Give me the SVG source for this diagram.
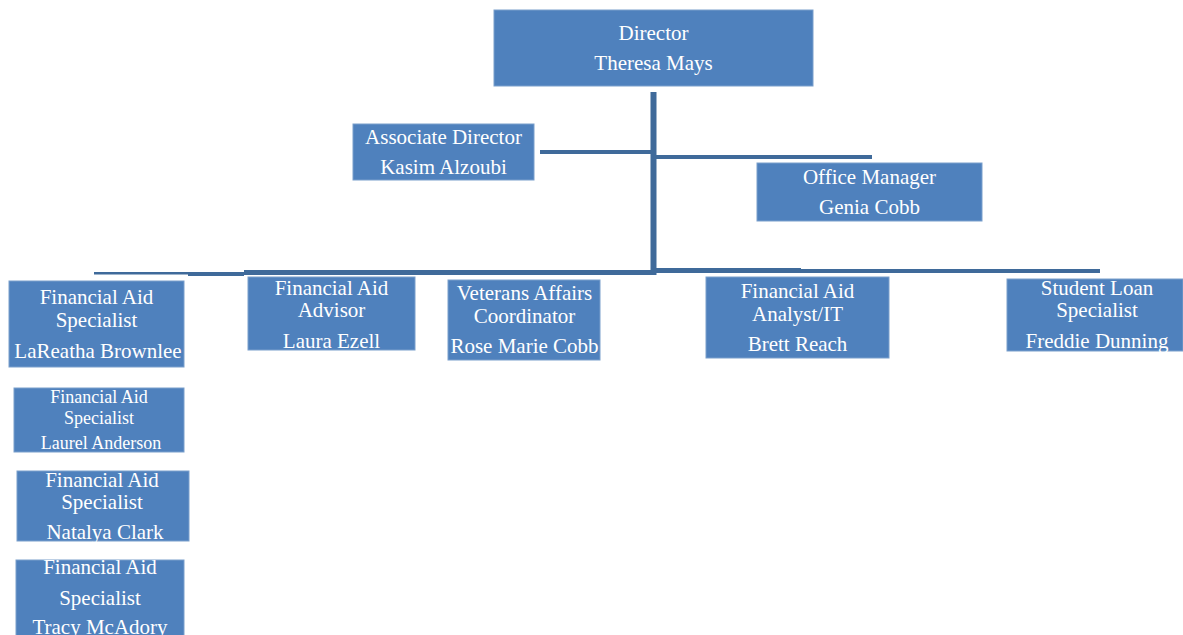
<svg xmlns="http://www.w3.org/2000/svg" width="1183" height="635" viewBox="0 0 1183 635">
<style>
.box{fill:#4F81BD;stroke:#7A9FCC;stroke-width:1}
.t{font-family:"Liberation Serif","Times New Roman",serif;font-size:21px;fill:#FFFFFF;text-anchor:middle}
.s{font-size:18px}
.ln{fill:#3F6A9A}
</style>
<rect width="1183" height="635" fill="#FFFFFF"/>
<g id="connectors">
<rect class="ln" x="650.5" y="92" width="6" height="183"/>
<rect class="ln" x="540" y="150" width="113" height="4"/>
<rect class="ln" x="653" y="155" width="219" height="4"/>
<rect class="ln" x="94" y="272" width="94" height="2.5"/>
<rect class="ln" x="188" y="272" width="56" height="4"/>
<rect class="ln" x="244" y="270" width="412" height="5"/>
<rect class="ln" x="653" y="268" width="148" height="5"/>
<rect class="ln" x="800" y="269" width="300" height="4"/>
</g>
<g id="director">
<rect class="box" x="494" y="10" width="319" height="76"/>
<text class="t" x="653.5" y="40">Director</text>
<text class="t" x="653.5" y="70">Theresa Mays</text>
</g>
<g id="associate-director">
<rect class="box" x="353" y="124" width="181" height="56"/>
<text class="t" x="443.5" y="144">Associate Director</text>
<text class="t" x="443.5" y="174">Kasim Alzoubi</text>
</g>
<g id="office-manager">
<rect class="box" x="757" y="163" width="225" height="58"/>
<text class="t" x="869.5" y="184">Office Manager</text>
<text class="t" x="869.5" y="214">Genia Cobb</text>
</g>
<g id="fa-specialist-brownlee">
<rect class="box" x="9" y="281" width="175" height="86"/>
<text class="t" x="96.5" y="304">Financial Aid</text>
<text class="t" x="96.5" y="327">Specialist</text>
<text class="t" x="98" y="358">LaReatha Brownlee</text>
</g>
<g id="fa-advisor">
<rect class="box" x="248" y="277" width="167" height="73"/>
<text class="t" x="331.5" y="295">Financial Aid</text>
<text class="t" x="331.5" y="317">Advisor</text>
<text class="t" x="331.5" y="348">Laura Ezell</text>
</g>
<g id="veterans-affairs">
<rect class="box" x="448" y="280" width="152" height="80"/>
<text class="t" x="524.5" y="300">Veterans Affairs</text>
<text class="t" x="524.5" y="323">Coordinator</text>
<text class="t" x="524.5" y="353">Rose Marie Cobb</text>
</g>
<g id="fa-analyst">
<rect class="box" x="706" y="277" width="183" height="81"/>
<text class="t" x="797.5" y="298">Financial Aid</text>
<text class="t" x="797.5" y="321">Analyst/IT</text>
<text class="t" x="797.5" y="351">Brett Reach</text>
</g>
<g id="student-loan">
<rect class="box" x="1007" y="279" width="176" height="72"/>
<text class="t" x="1097" y="295">Student Loan</text>
<text class="t" x="1097" y="317">Specialist</text>
<text class="t" x="1097" y="348">Freddie Dunning</text>
</g>
<g id="fa-specialist-anderson">
<rect class="box" x="14" y="388" width="170" height="64"/>
<text class="t s" x="99" y="403">Financial Aid</text>
<text class="t s" x="99" y="424">Specialist</text>
<text class="t s" x="101" y="449">Laurel Anderson</text>
</g>
<g id="fa-specialist-clark">
<rect class="box" x="17" y="471" width="172" height="70"/>
<text class="t" x="102" y="487">Financial Aid</text>
<text class="t" x="102" y="509">Specialist</text>
<text class="t" x="105" y="539">Natalya Clark</text>
</g>
<g id="fa-specialist-mcadory">
<rect class="box" x="16" y="560" width="168" height="80"/>
<text class="t" x="100" y="574">Financial Aid</text>
<text class="t" x="100" y="605">Specialist</text>
<text class="t" x="100" y="634">Tracy McAdory</text>
</g>
</svg>
